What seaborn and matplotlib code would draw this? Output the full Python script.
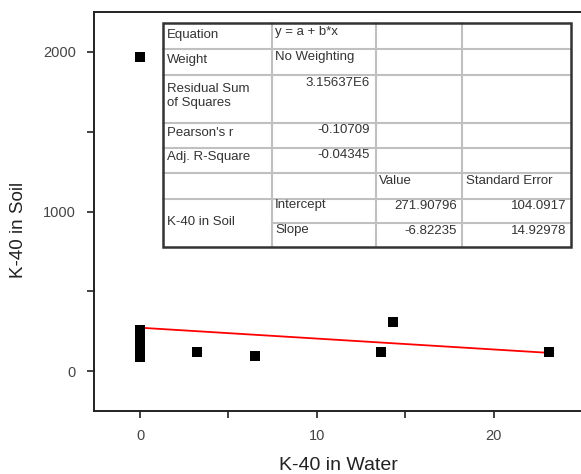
import matplotlib
matplotlib.use("Agg")
import matplotlib.pyplot as plt
import matplotlib.transforms as mtransforms
from matplotlib.lines import Line2D
from matplotlib.patches import Rectangle
import seaborn as sns
import numpy as np

# ---- data ----
water = [0, 0, 0, 0, 0, 0, 0, 0, 0, 0, 0, 0, 0, 0, 0, 3.2, 6.5, 13.6, 14.3, 23.1]
soil = [1970, 256, 240, 225, 200, 185, 170, 160, 150, 140, 125, 110, 100, 92, 87,
        120, 95, 120, 305, 120]
intercept = 271.90796
slope = -6.82235
x_ticks = [0, 10, 20]
y_ticks = [0, 1000, 2000]

table_col1 = ["Equation", "Weight", "Residual Sum\nof Squares", "Pearson's r", "Adj. R-Square", "", "K-40 in Soil"]
table_col2 = ["y = a + b*x", "No Weighting", "3.15637E6", "-0.10709", "-0.04345", "", "Intercept", "Slope"]
param_values = ["271.90796", "-6.82235"]
param_errors = ["104.0917", "14.92978"]

sns.set_style("ticks")
plt.rcParams['font.family'] = ['Liberation Sans', 'DejaVu Sans']

W, H = 581, 474
fig = plt.figure(figsize=(W / 100, H / 100), dpi=100)
ax = fig.add_axes([94 / W, (H - 411) / H, (W - 94) / W, (411 - 12) / H])

sns.scatterplot(x=water, y=soil, marker='s', s=55, color='black', edgecolor='black',
                linewidth=0, ax=ax, zorder=3)
fit_x = np.array([min(water), max(water)])
fit_y = intercept + slope * fit_x
sns.lineplot(x=fit_x, y=fit_y, color='red', linewidth=1.3, ax=ax, zorder=2)

ax.set_xlim(-2.6, 24.92)
ax.set_ylim(-250, 2250)
ax.set_xticks(x_ticks)
ax.set_xticks([5, 15], minor=True)
ax.set_yticks(y_ticks)
ax.set_yticks([500, 1500], minor=True)
ax.tick_params(which='both', direction='out', length=5, width=1.2, color='#222',
               labelsize=10.5, labelcolor='#444')
ax.tick_params(axis='x', pad=8)
ax.tick_params(axis='y', pad=8)
for s in ['left', 'bottom', 'top']:
    ax.spines[s].set_linewidth(1.4)
    ax.spines[s].set_color('#222')
ax.spines['right'].set_visible(False)
ax.set_xlabel("K-40 in Water", fontsize=14, color='#222', va='center')
ax.set_ylabel("K-40 in Soil", fontsize=13.5, color='#222', va='center')
ax.xaxis.set_label_coords((338 - 94) / (W - 94), (411 - 465) / 399)
ax.yaxis.set_label_coords((19 - 94) / (W - 94), (411 - 230) / 399)

# ---- table (pixel coordinates, origin top-left) ----
pix = mtransforms.Affine2D().scale(1 / W, -1 / H).translate(0, 1) + fig.transFigure
cx = [163, 272, 376, 462, 571]
ry = [22.7, 49.3, 75, 122.7, 148.3, 173.3, 199, 223.3, 246.7]

fig.add_artist(Rectangle((cx[0], ry[0]), cx[-1] - cx[0], ry[-1] - ry[0], transform=pix,
                         facecolor='white', edgecolor='none', zorder=5))
gray = '#c0c0c0'
for i in range(1, len(ry) - 1):
    x0 = cx[1] if i == 7 else cx[0]
    fig.add_artist(Line2D([x0, cx[-1]], [ry[i], ry[i]], transform=pix, color=gray, lw=1.5, zorder=6))
for j in range(1, len(cx) - 1):
    fig.add_artist(Line2D([cx[j], cx[j]], [ry[0], ry[-1]], transform=pix, color=gray, lw=1.5, zorder=6))
fig.add_artist(Rectangle((cx[0], ry[0]), cx[-1] - cx[0], ry[-1] - ry[0], transform=pix,
                         facecolor='none', edgecolor='#333', lw=1.8, zorder=7))

fs = 9.5
tc = '#333'
col1_y = [35, 60, 96, 133, 157, None, 222]
for txt, y in zip(table_col1, col1_y):
    if txt:
        fig.text(167 / W, 1 - y / H, txt, fontsize=fs, color=tc, ha='left', va='center',
                 linespacing=1.2, zorder=8)
col2_y = [32, 57, 83, 130, 155, None, 205, 230]
for k, (txt, y) in enumerate(zip(table_col2, col2_y)):
    if not txt:
        continue
    if k in (0, 1, 6, 7):
        fig.text(275 / W, 1 - y / H, txt, fontsize=fs, color=tc, ha='left', va='center', zorder=8)
    else:
        fig.text(370 / W, 1 - y / H, txt, fontsize=fs, color=tc, ha='right', va='center', zorder=8)
fig.text(379 / W, 1 - 181 / H, "Value", fontsize=fs, color=tc, ha='left', va='center', zorder=8)
fig.text(466 / W, 1 - 181 / H, "Standard Error", fontsize=fs, color=tc, ha='left', va='center', zorder=8)
for txt, y in zip(param_values, [206, 231]):
    fig.text(457 / W, 1 - y / H, txt, fontsize=fs, color=tc, ha='right', va='center', zorder=8)
for txt, y in zip(param_errors, [206, 231]):
    fig.text(566 / W, 1 - y / H, txt, fontsize=fs, color=tc, ha='right', va='center', zorder=8)

fig.savefig("out.png", dpi=100)
